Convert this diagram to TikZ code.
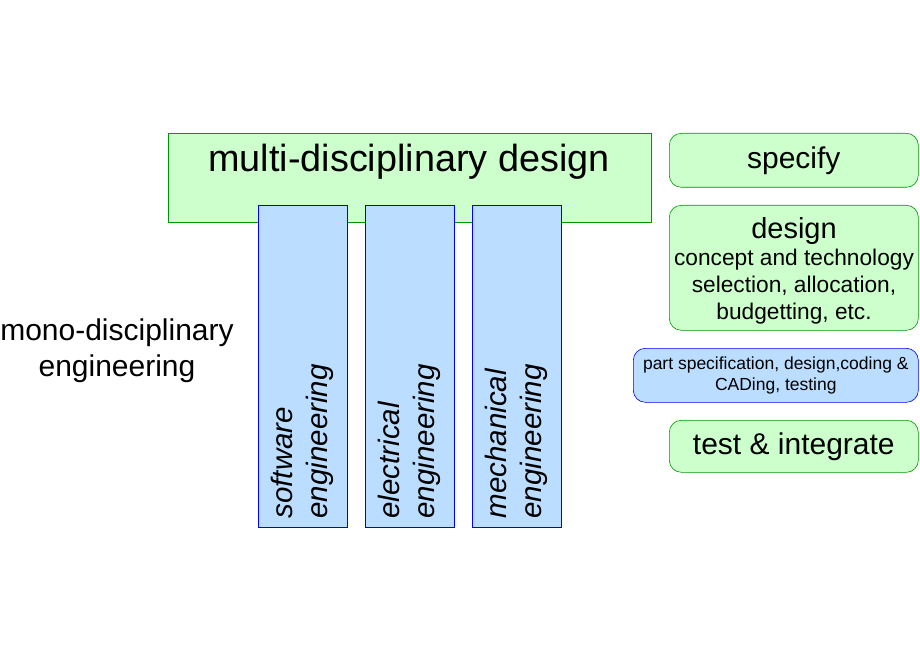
\documentclass[tikz,border=0pt]{standalone}
\usepackage{fontspec}
\setmainfont{Liberation Sans}
\usetikzlibrary{positioning}
\definecolor{lgreen}{RGB}{204,255,204}
\definecolor{dgreen}{RGB}{0,150,0}
\definecolor{lblue}{RGB}{187,221,255}
\tikzset{
  greenbox/.style={draw=dgreen,fill=lgreen,line width=0.6pt},
  bluebox/.style={draw=blue,fill=lblue,line width=0.6pt},
  colbox/.style={bluebox,minimum width=89pt,minimum height=322pt,anchor=north west,inner sep=0pt},
  stepbox/.style={greenbox,rounded corners=12pt,minimum width=249pt,anchor=north west,inner sep=0pt,align=center},
  coltext/.style={rotate=90,anchor=west,align=left,font=\fontsize{29.5}{35}\selectfont\itshape}
}
\begin{document}
\begin{tikzpicture}[x=1pt,y=-1pt]
\useasboundingbox (0,0) rectangle (920,660);
\node[greenbox,minimum width=483pt,minimum height=89pt,anchor=north west,inner sep=0pt] (multi) at (168,133) {};
\node[font=\fontsize{37.8}{42}\selectfont] (multitext) at (409,162) {multi-disciplinary design};
\node[colbox] (sw) at (258,205) {};
\node[colbox] (el) at (365,205) {};
\node[colbox] (me) at (472,205) {};
\node[coltext] (swt) at (302,522) {software\\engineering};
\node[coltext] (elt) at (409,522) {electrical\\engineering};
\node[coltext] (met) at (516,522) {mechanical\\engineering};
\node[align=center,font=\fontsize{30}{36}\selectfont] (mono) at (117,351) {mono-disciplinary\\engineering};
\node[stepbox,minimum height=54pt,font=\fontsize{30}{34}\selectfont] (spec) at (669,133) {specify};
\node[stepbox,minimum height=125pt,font=\fontsize{22.7}{27}\selectfont] (des) at (669,205) {};
\node[align=center,font=\fontsize{22.7}{27}\selectfont] (destext) at (794,271)
  {{\fontsize{29}{31}\selectfont design}\\concept and technology\\selection, allocation,\\budgetting, etc.};
\node[bluebox,rounded corners=12pt,minimum width=285pt,minimum height=54pt,anchor=north west,inner sep=0pt,align=center,font=\fontsize{17.5}{21}\selectfont] (part) at (633,348)
  {part specification, design,coding \&\\CADing, testing};
\node[stepbox,minimum height=52pt,font=\fontsize{30}{34}\selectfont] (test) at (669,420) {test \& integrate};
\end{tikzpicture}
\end{document}
